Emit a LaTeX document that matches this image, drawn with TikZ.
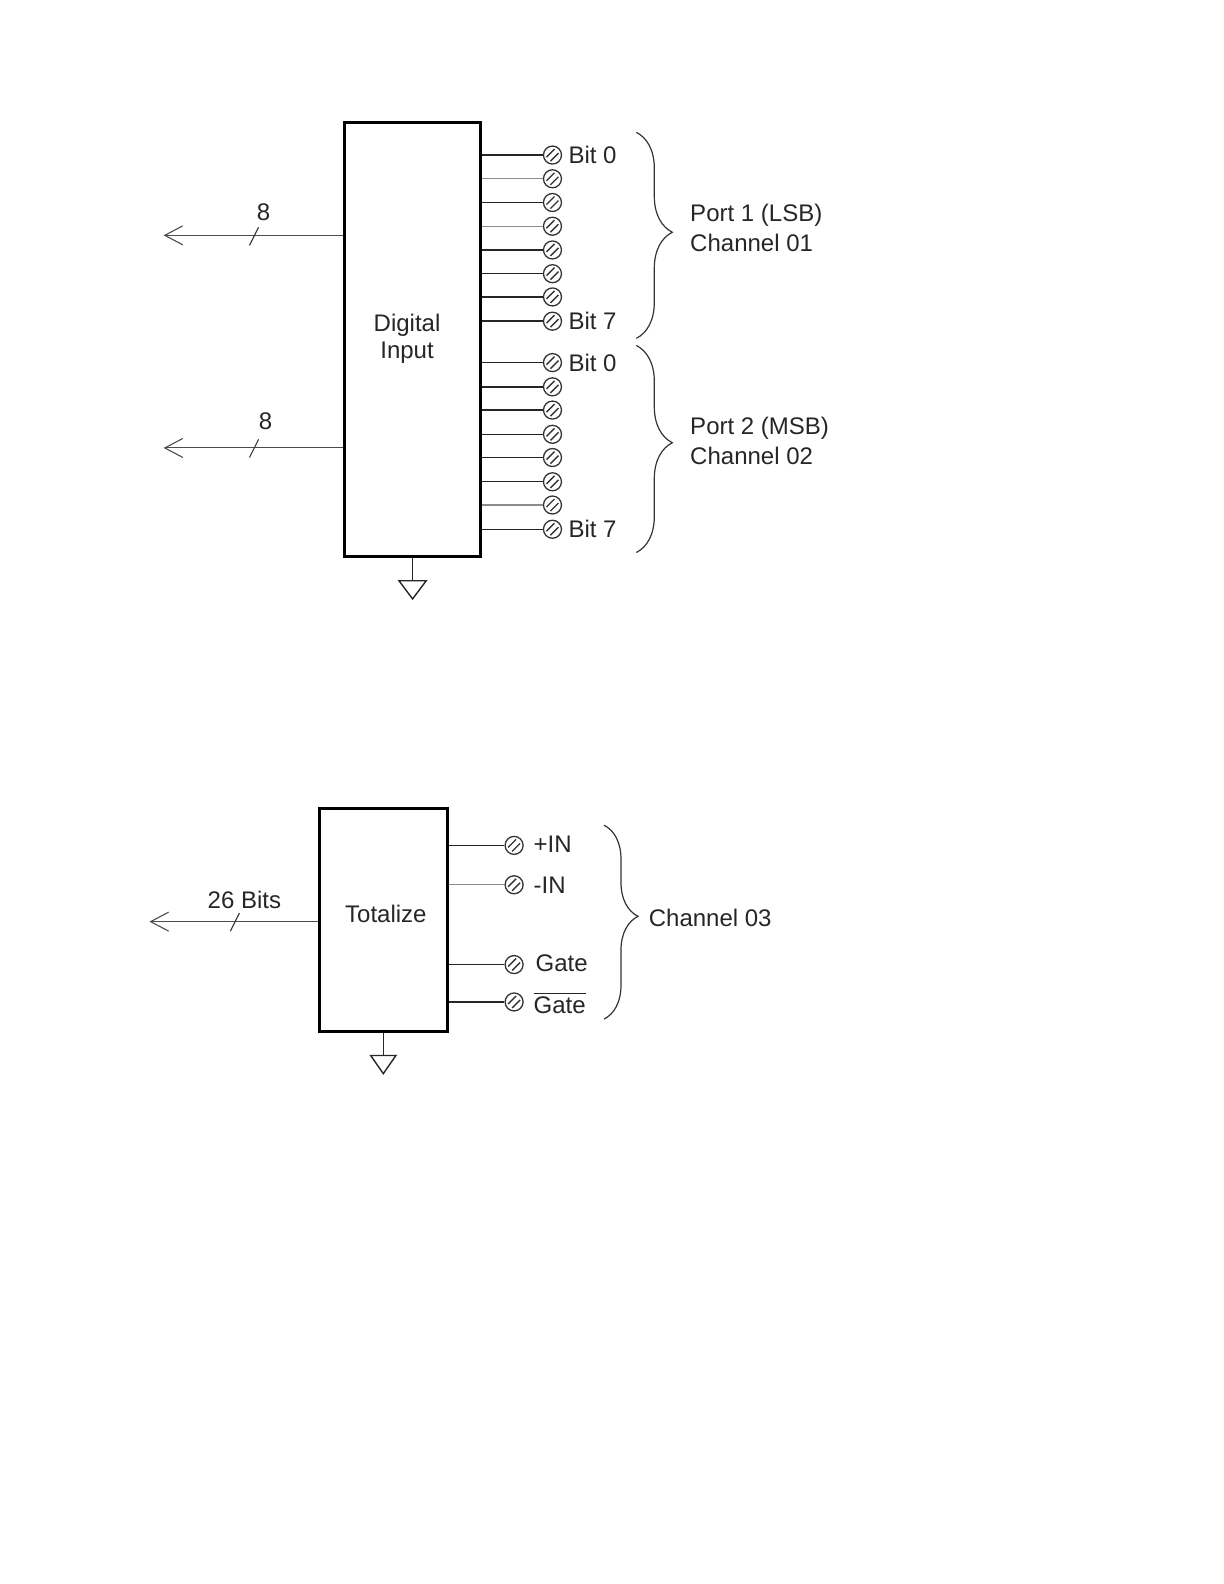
\documentclass[tikz,border=0pt]{standalone}
\usepackage{fontspec}
\setmainfont{Liberation Sans}
\usetikzlibrary{arrows.meta,decorations.pathreplacing}
\tikzset{
    blockbox/.style={draw=black,line width=1.6pt,minimum width=#1,inner sep=0pt},
    wire/.style={line width=0.7pt,draw=black!85},
    palewire/.style={line width=0.7pt,draw=black!45},
    bus/.style={line width=0.55pt,draw=black!70,{Straight Barb[length=9pt,width=9.5pt]}-},
    tick/.style={line width=0.55pt,draw=black!80},
    screw/.style={circle,draw=black!80,line width=0.65pt,fill=white,minimum size=9pt,inner sep=0pt,
        path picture={
            \draw[black!80,line width=0.7pt] ([xshift=-1pt,yshift=-3pt]path picture bounding box.center) -- ([xshift=3pt,yshift=1pt]path picture bounding box.center);
            \draw[black!80,line width=0.7pt] ([xshift=-3pt,yshift=-1pt]path picture bounding box.center) -- ([xshift=1pt,yshift=3pt]path picture bounding box.center);
        }},
    lbl/.style={font=\fontsize{12}{15}\selectfont,text=black!85,inner sep=0pt,align=left},
    curly/.style={draw=black!80,line width=0.6pt,decorate},
}
\begin{document}
\begin{tikzpicture}[x=0.505pt,y=-0.505pt]
\useasboundingbox (0pt,0pt) rectangle (612pt,-792pt);
    % digital input block
    \node[blockbox=68pt,minimum height=217pt] (digital) at (408.5,336) {};
    \node[lbl,align=center] (digitaltext) at (403,335) {Digital\\[-1.5pt]Input};
    \foreach \n/\y/\w in {1/153.5/wire,2/177/palewire,3/200.5/wire,4/224/palewire,5/247.5/wire,6/271/wire,7/294/wire,8/318/wire} {
        \node[screw] (a\n) at (547,\y) {};
        \draw[\w] (digital.east |- a\n) -- (a\n);
    }
    \foreach \n/\y/\w in {1/359/wire,2/383/wire,3/406/wire,4/430/wire,5/453/wire,6/477/wire,7/500/palewire,8/524/wire} {
        \node[screw] (b\n) at (547,\y) {};
        \draw[\w] (digital.east |- b\n) -- (b\n);
    }
    \node[lbl,anchor=west] (abit0) at (562.5,153.5) {Bit 0};
    \node[lbl,anchor=west] (abit7) at (562.5,318) {Bit 7};
    \node[lbl,anchor=west] (bbit0) at (562.5,359) {Bit 0};
    \node[lbl,anchor=west] (bbit7) at (562.5,524) {Bit 7};
    % brace
    \coordinate (atop) at (630,131);
    \coordinate (abot) at (630,335);
    \coordinate (btop) at (630,342);
    \coordinate (bbot) at (630,547);
    \draw[curly,decoration={brace,amplitude=18pt,aspect=0.485}] (atop) -- (abot);
    \draw[curly,decoration={brace,amplitude=18pt,aspect=0.47}] (btop) -- (bbot);
    \node[lbl,anchor=west] (port1) at (683,225.5) {Port 1 (LSB)\\Channel 01};
    \node[lbl,anchor=west] (port2) at (683,437) {Port 2 (MSB)\\Channel 02};
    % busses
    \coordinate (aend) at (162,233);
    \coordinate (bend) at (162,443.5);
    \draw[bus] (aend) -- (digital.west |- aend);
    \draw[bus] (bend) -- (digital.west |- bend);
    \coordinate (at1) at (247,243);
    \coordinate (at2) at (256,225);
    \coordinate (bt1) at (247,453);
    \coordinate (bt2) at (256,435);
    \draw[tick] (at1) -- (at2);
    \draw[tick] (bt1) -- (bt2);
    \node[lbl] (abits) at (261,210) {8};
    \node[lbl] (bbits) at (263,417) {8};
    % ground
    \coordinate (agnd) at (408.5,575);
    \draw[wire] (digital.south -| agnd) -- (agnd);
    \draw[wire] (agnd) -- ++(-13.5,0) -- ++(13.5,18) -- ++(13.5,-18) -- cycle;

    % totalize block
    \node[blockbox=64pt,minimum height=111.5pt] (total) at (379.5,910.5) {};
    \node[lbl] (totaltext) at (382,905) {Totalize};
    \foreach \n/\y/\w in {1/837/wire,2/876/palewire,3/955/wire,4/992/wire} {
        \node[screw] (c\n) at (509,\y) {};
        \draw[\w] (total.east |- c\n) -- (c\n);
    }
    \node[lbl,anchor=west] (plusin) at (528,836) {+IN};
    \node[lbl,anchor=west] (minusin) at (528,876) {-IN};
    \node[lbl,anchor=west] (gate) at (530,954) {Gate};
    \node[lbl,anchor=west] (gatebar) at (528,993) {$\overline{\mbox{Gate}}$};
    \coordinate (ctop) at (598,817);
    \coordinate (cbot) at (598,1009);
    \draw[curly,decoration={brace,amplitude=17pt,aspect=0.47}] (ctop) -- (cbot);
    \node[lbl,anchor=west] (chan3) at (642,908.5) {Channel 03};
    \coordinate (cend) at (148,912.5);
    \draw[bus] (cend) -- (total.west |- cend);
    \coordinate (ct1) at (228,922);
    \coordinate (ct2) at (237,904);
    \draw[tick] (ct1) -- (ct2);
    \node[lbl] (cbits) at (242,891) {26 Bits};
    \coordinate (cgnd) at (379.5,1045);
    \draw[wire] (total.south -| cgnd) -- (cgnd);
    \draw[wire] (cgnd) -- ++(-12.5,0) -- ++(12.5,18) -- ++(12.5,-18) -- cycle;
\end{tikzpicture}
\end{document}
